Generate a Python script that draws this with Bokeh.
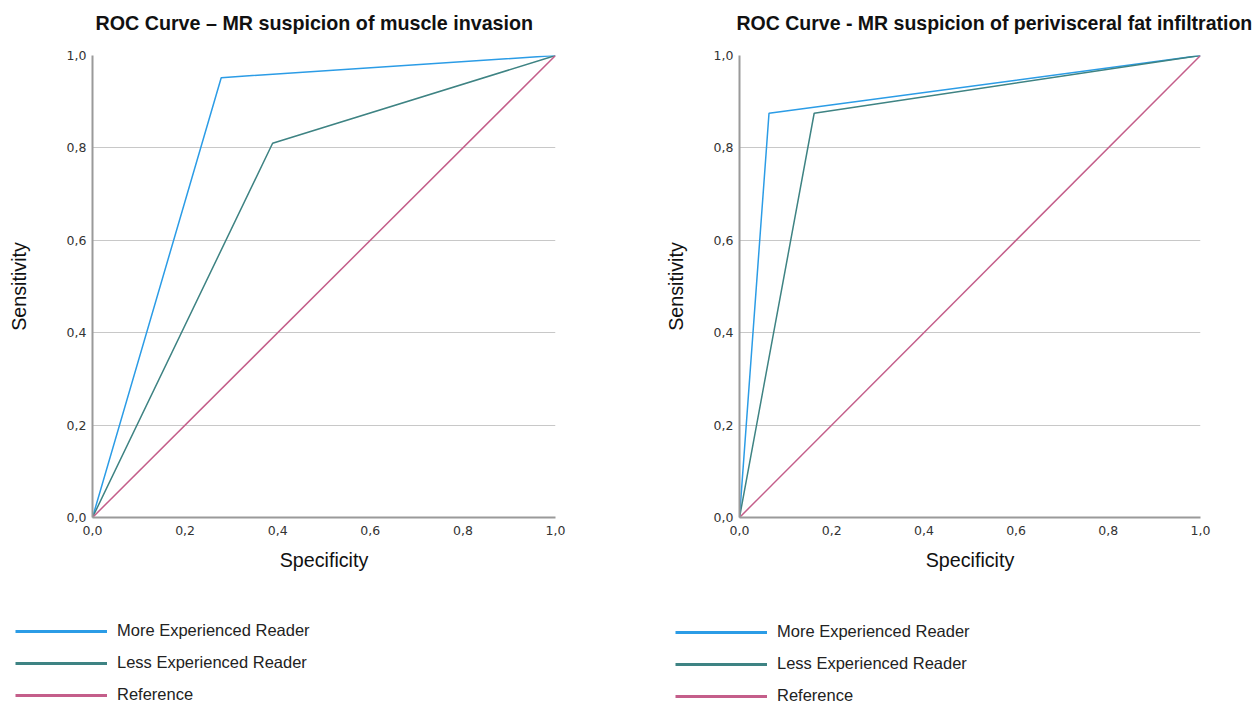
from bokeh.plotting import figure
from bokeh.layouts import row, column
from bokeh.models import Range1d, Legend, LegendItem, FixedTicker, Label
from bokeh.embed import file_html
from bokeh.resources import INLINE

# ---------------- data ----------------
series_names = ["More Experienced Reader", "Less Experienced Reader", "Reference"]
series_colors = ["#2B9CE6", "#3E8383", "#C45E8A"]

titles = ["ROC Curve \u2013 MR suspicion of muscle invasion",
          "ROC Curve - MR suspicion of perivisceral fat infiltration"]

# 1 - specificity (x) and sensitivity (y)
muscle_more_x = [0.0, 0.278, 1.0]
muscle_more_y = [0.0, 0.952, 1.0]
muscle_less_x = [0.0, 0.389, 1.0]
muscle_less_y = [0.0, 0.810, 1.0]

fat_more_x = [0.0, 0.064, 1.0]
fat_more_y = [0.0, 0.875, 1.0]
fat_less_x = [0.0, 0.162, 1.0]
fat_less_y = [0.0, 0.875, 1.0]

reference_x = [0.0, 1.0]
reference_y = [0.0, 1.0]

tick_values = [0.0, 0.2, 0.4, 0.6, 0.8, 1.0]
tick_labels = ["0,0", "0,2", "0,4", "0,6", "0,8", "1,0"]

x_label = "Specificity"
y_label = "Sensitivity"

HEAD_H = 40
PLOT_H = 15 + 462 + 70
LEG_H = 703 - HEAD_H - PLOT_H
W1 = 92 + 463 + 73
W2 = 111 + 461 + 55


def bare_figure(width, height):
    q = figure(width=width, height=height,
               min_border_left=0, min_border_right=0,
               min_border_top=0, min_border_bottom=0,
               x_range=Range1d(10, 11), y_range=Range1d(10, 11),
               x_axis_type=None, y_axis_type=None,
               output_backend="svg", toolbar_location=None,
               background_fill_color="white", border_fill_color="white")
    q.outline_line_color = None
    q.xgrid.grid_line_color = None
    q.ygrid.grid_line_color = None
    return q


def make_header():
    h = bare_figure(W1 + W2, HEAD_H)
    for txt, sx, size in zip(titles, [95, W1 + 108], ["19.7px", "19.5px"]):
        h.add_layout(Label(x=sx, y=HEAD_H - 22, x_units="screen", y_units="screen",
                           text=txt, text_font="Liberation Sans",
                           text_font_size=size, text_font_style="bold",
                           text_color="#111111", text_baseline="middle",
                           text_align="left"))
    return h


def make_plot(curves, min_left, frame_w, min_right, ylab_standoff):
    p = figure(frame_width=frame_w, frame_height=462,
               min_border_left=min_left, min_border_right=min_right,
               min_border_top=15, min_border_bottom=70,
               x_range=Range1d(0, 1), y_range=Range1d(0, 1),
               output_backend="svg", toolbar_location=None,
               background_fill_color="white", border_fill_color="white")
    p.outline_line_color = None

    for ax in (p.xaxis[0], p.yaxis[0]):
        ax.ticker = FixedTicker(ticks=tick_values)
        ax.major_label_overrides = {v: l for v, l in zip(tick_values, tick_labels)}
        ax.major_tick_out = 0
        ax.major_tick_in = 0
        ax.minor_tick_out = 0
        ax.minor_tick_in = 0
        ax.axis_line_color = "#9a9a9a"
        ax.axis_line_width = 2
        ax.major_label_text_font = "DejaVu Sans"
        ax.major_label_text_font_size = "12.5px"
        ax.major_label_text_color = "#333333"
        ax.axis_label_text_font = "Liberation Sans"
        ax.axis_label_text_font_size = "19.7px"
        ax.axis_label_text_font_style = "normal"
        ax.axis_label_text_color = "#111111"

    p.xaxis.major_label_standoff = 8
    p.yaxis.major_label_standoff = 6
    p.xaxis.axis_label = x_label
    p.xaxis.axis_label_standoff = 11
    p.yaxis.axis_label = y_label
    p.yaxis.axis_label_standoff = ylab_standoff

    p.xgrid.grid_line_color = None
    p.ygrid.ticker = FixedTicker(ticks=tick_values)
    p.ygrid.grid_line_color = "#c8c8c8"
    p.ygrid.grid_line_width = 1

    for (xs, ys), col in zip(curves, series_colors):
        p.line(xs, ys, line_color=col, line_width=1.5)
    return p


def make_legend(width, curves, legend_dx, legend_dy):
    # legend panel: its ranges are set away from the data, so only the swatches show
    q = bare_figure(width, LEG_H)
    items = []
    for name, col, (xs, ys) in zip(series_names, series_colors, curves):
        r = q.line(xs, ys, line_color=col, line_width=3)
        items.append(LegendItem(label=name, renderers=[r]))
    legend = Legend(items=items, location=(legend_dx, legend_dy),
                    orientation="vertical",
                    background_fill_alpha=0, border_line_alpha=0,
                    padding=0, margin=0, spacing=13,
                    glyph_width=92, glyph_height=18, label_height=18,
                    label_standoff=10,
                    label_text_font="Liberation Sans",
                    label_text_font_size="16.5px",
                    label_text_color="#222222")
    q.add_layout(legend, "center")
    return q


curves1 = [(muscle_more_x, muscle_more_y), (muscle_less_x, muscle_less_y),
           (reference_x, reference_y)]
curves2 = [(fat_more_x, fat_more_y), (fat_less_x, fat_less_y),
           (reference_x, reference_y)]

header = make_header()
p1 = make_plot(curves1, min_left=92, frame_w=463, min_right=73, ylab_standoff=34)
p2 = make_plot(curves2, min_left=111, frame_w=461, min_right=55, ylab_standoff=24)
l1 = make_legend(W1, curves1, 15, -1)
l2 = make_legend(W2, curves2, 675 - W1, -2)

layout = column(header, row(p1, p2, spacing=0), row(l1, l2, spacing=0), spacing=0)
open("out.html", "w").write(file_html(layout, INLINE))
